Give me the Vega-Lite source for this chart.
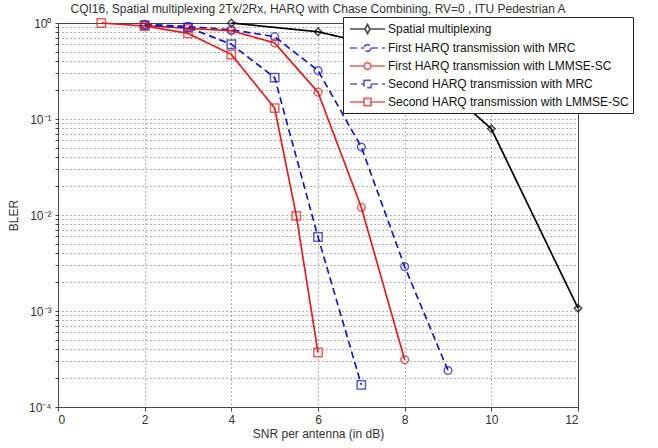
{
  "$schema": "https://vega.github.io/schema/vega-lite/v6.json",
  "width": 520,
  "height": 384,
  "autosize": "none",
  "padding": {"left": 58, "top": 23, "right": 80, "bottom": 41},
  "background": "white",
  "config": {
    "font": "Liberation Sans",
    "view": {"stroke": "#444", "strokeWidth": 1},
    "axis": {"labelColor": "#333", "titleColor": "#333", "labelFontSize": 12, "titleFontSize": 12, "titleFontWeight": "normal", "gridColor": "#555", "gridDash": [1, 3], "gridOpacity": 0.9, "domain": false, "tickColor": "#444"}
  },
  "title": {"text": "CQI16, Spatial multiplexing 2Tx/2Rx, HARQ with Chase Combining, RV=0 , ITU Pedestrian A", "fontSize": 12, "fontWeight": "normal", "color": "#333", "offset": 0, "anchor": "middle"},
  "data": {"values": [
    {"series": "Spatial multiplexing", "x": 4, "y": 1.0},
    {"series": "Spatial multiplexing", "x": 6, "y": 0.81},
    {"series": "Spatial multiplexing", "x": 8, "y": 0.5},
    {"series": "Spatial multiplexing", "x": 10, "y": 0.079},
    {"series": "Spatial multiplexing", "x": 12, "y": 0.00107},
    {"series": "First HARQ transmission with MRC", "x": 2, "y": 0.97},
    {"series": "First HARQ transmission with MRC", "x": 3, "y": 0.92},
    {"series": "First HARQ transmission with MRC", "x": 4, "y": 0.85},
    {"series": "First HARQ transmission with MRC", "x": 5, "y": 0.72},
    {"series": "First HARQ transmission with MRC", "x": 6, "y": 0.32},
    {"series": "First HARQ transmission with MRC", "x": 7, "y": 0.051},
    {"series": "First HARQ transmission with MRC", "x": 8, "y": 0.0029},
    {"series": "First HARQ transmission with MRC", "x": 9, "y": 0.00024},
    {"series": "First HARQ transmission with LMMSE-SC", "x": 2, "y": 0.94},
    {"series": "First HARQ transmission with LMMSE-SC", "x": 3, "y": 0.88},
    {"series": "First HARQ transmission with LMMSE-SC", "x": 4, "y": 0.83},
    {"series": "First HARQ transmission with LMMSE-SC", "x": 5, "y": 0.62},
    {"series": "First HARQ transmission with LMMSE-SC", "x": 6, "y": 0.19},
    {"series": "First HARQ transmission with LMMSE-SC", "x": 7, "y": 0.012},
    {"series": "First HARQ transmission with LMMSE-SC", "x": 8, "y": 0.00031},
    {"series": "Second HARQ transmission with MRC", "x": 2, "y": 0.95},
    {"series": "Second HARQ transmission with MRC", "x": 3, "y": 0.9},
    {"series": "Second HARQ transmission with MRC", "x": 4, "y": 0.6},
    {"series": "Second HARQ transmission with MRC", "x": 5, "y": 0.27},
    {"series": "Second HARQ transmission with MRC", "x": 6, "y": 0.0059},
    {"series": "Second HARQ transmission with MRC", "x": 7, "y": 0.00017},
    {"series": "Second HARQ transmission with LMMSE-SC", "x": 1, "y": 1.0},
    {"series": "Second HARQ transmission with LMMSE-SC", "x": 2, "y": 0.93},
    {"series": "Second HARQ transmission with LMMSE-SC", "x": 3, "y": 0.78},
    {"series": "Second HARQ transmission with LMMSE-SC", "x": 4, "y": 0.47},
    {"series": "Second HARQ transmission with LMMSE-SC", "x": 5, "y": 0.13},
    {"series": "Second HARQ transmission with LMMSE-SC", "x": 5.5, "y": 0.0098},
    {"series": "Second HARQ transmission with LMMSE-SC", "x": 6, "y": 0.00037}
  ]},
  "encoding": {
    "x": {"field": "x", "type": "quantitative", "scale": {"domain": [0, 12], "nice": false}, "axis": {"title": "SNR per antenna (in dB)", "values": [0, 2, 4, 6, 8, 10, 12], "tickSize": 4, "labelPadding": 3, "titlePadding": 3}},
    "y": {"field": "y", "type": "quantitative", "scale": {"type": "log", "domain": [0.0001, 1], "nice": false}, "axis": {"title": "BLER", "values": [0.0001, 0.0002, 0.0003, 0.0004, 0.0005, 0.0006, 0.0007, 0.0008, 0.0009, 0.001, 0.002, 0.003, 0.004, 0.005, 0.006, 0.007, 0.008, 0.009, 0.01, 0.02, 0.03, 0.04, 0.05, 0.06, 0.07, 0.08, 0.09, 0.1, 0.2, 0.3, 0.4, 0.5, 0.6, 0.7, 0.8, 0.9, 1], "labelExpr": "datum.value == 1 ? '10⁰' : datum.value == 0.1 ? '10⁻¹' : datum.value == 0.01 ? '10⁻²' : datum.value == 0.001 ? '10⁻³' : datum.value == 0.0001 ? '10⁻⁴' : ''", "tickSize": 3, "labelPadding": 4, "titlePadding": 8}},
    "color": {"field": "series", "type": "nominal", "scale": {"domain": ["Spatial multiplexing", "First HARQ transmission with MRC", "First HARQ transmission with LMMSE-SC", "Second HARQ transmission with MRC", "Second HARQ transmission with LMMSE-SC"], "range": ["#000000", "#1818c4", "#e01e1e", "#1818c4", "#e01e1e"]},
      "legend": {"title": null, "orient": "none", "legendX": 285, "legendY": -6, "fillColor": "white", "strokeColor": "#222", "padding": 4, "labelFontSize": 12, "labelColor": "#111", "labelLimit": 0, "symbolSize": 200, "symbolStrokeWidth": 1.7, "symbolFillColor": "transparent", "rowPadding": 3, "labelOffset": 25}}
  },
  "layer": [
    {"mark": {"type": "line", "strokeWidth": 1.7},
     "encoding": {"strokeDash": {"field": "series", "type": "nominal", "scale": {"domain": ["Spatial multiplexing", "First HARQ transmission with MRC", "First HARQ transmission with LMMSE-SC", "Second HARQ transmission with MRC", "Second HARQ transmission with LMMSE-SC"], "range": [[1, 0], [7, 4], [1, 0], [7, 4], [1, 0]]}}}},
    {"transform": [{"filter": "false"}],
     "mark": {"type": "point", "filled": false, "strokeWidth": 1.5},
     "encoding": {"shape": {"field": "series", "type": "nominal", "scale": {"domain": ["Spatial multiplexing", "First HARQ transmission with MRC", "First HARQ transmission with LMMSE-SC", "Second HARQ transmission with MRC", "Second HARQ transmission with LMMSE-SC"], "range": ["M-0.7,0H1.42M2.12,0H4.24M1.77,-0.64L2.12,0L1.77,0.64L1.42,0Z", "M-0.7,0H1.3M2.24,0H4.24M2.24,0A0.47,0.47,0,1,1,1.3,0A0.47,0.47,0,1,1,2.24,0Z", "M-0.7,0H1.3M2.24,0H4.24M2.24,0A0.47,0.47,0,1,1,1.3,0A0.47,0.47,0,1,1,2.24,0Z", "M-0.7,0H1.27M2.27,0H4.24M1.27,-0.5H2.27V0.5H1.27Z", "M-0.7,0H1.27M2.27,0H4.24M1.27,-0.5H2.27V0.5H1.27Z"]}},
      "strokeDash": {"field": "series", "type": "nominal"}}},
    {"transform": [{"filter": "datum.series == 'Spatial multiplexing'"}],
     "mark": {"type": "point", "shape": "diamond", "filled": false, "strokeWidth": 1.5, "size": 55}},
    {"transform": [{"filter": "indexof(datum.series, 'First') == 0"}],
     "mark": {"type": "point", "shape": "circle", "filled": false, "strokeWidth": 1.5, "size": 60}},
    {"transform": [{"filter": "indexof(datum.series, 'Second') == 0"}],
     "mark": {"type": "point", "shape": "square", "filled": false, "strokeWidth": 1.5, "size": 70}}
  ]
}
